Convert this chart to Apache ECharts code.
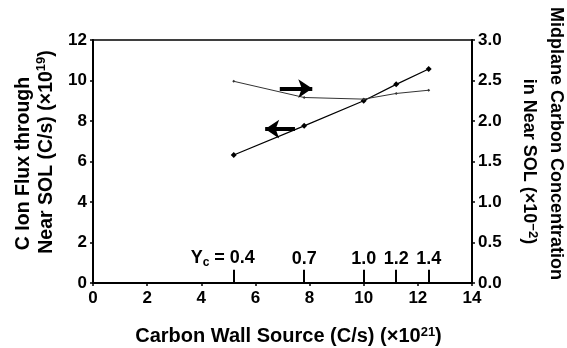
<!DOCTYPE html>
<html>
<head>
<meta charset="utf-8">
<script src="https://cdn.jsdelivr.net/npm/echarts@6/dist/echarts.min.js"></script>
<style>
  html, body { margin: 0; padding: 0; background: #fff; }
  #chart { width: 567px; height: 348px; }
</style>
</head>
<body>
<div id="chart"></div>
<script>
var wallSource = [5.2, 7.8, 10.0, 11.2, 12.4];
var ionFlux = [6.32, 7.76, 9.0, 9.81, 10.57];
var carbonConc = [2.49, 2.29, 2.27, 2.34, 2.38];
var yieldLabels = ['0.4', '0.7', '1.0', '1.2', '1.4'];

var FONT = '"Liberation Sans Narrow", "Liberation Sans", Arial, sans-serif';

var chartDom = document.getElementById('chart');
var myChart = echarts.init(chartDom);

var fluxData = wallSource.map(function (x, i) { return [x, ionFlux[i]]; });
var concData = wallSource.map(function (x, i) { return [x, carbonConc[i]]; });

// Yc ticks standing on the x axis
var yieldTicks = wallSource.map(function (x, i) {
    var lbl = {
        show: true,
        position: 'end',
        distance: 2,
        fontFamily: FONT,
        fontWeight: 'bold',
        fontSize: 18,
        color: '#000',
        formatter: yieldLabels[i]
    };
    if (i === 0) {
        lbl.formatter = '{a|Y}{s|c}{a| = ' + yieldLabels[i] + '}';
        lbl.padding = [0, 22, 0, 0];
        lbl.rich = {
            a: { fontFamily: FONT, fontWeight: 'bold', fontSize: 18, color: '#000', lineHeight: 20 },
            s: { fontFamily: FONT, fontWeight: 'bold', fontSize: 12, color: '#000', lineHeight: 20, padding: [9, 0, 0, 0] }
        };
    }
    return [
        { coord: [x, 0], label: lbl },
        { coord: [x, 0.65] }
    ];
});

var axisText = { fontFamily: FONT, fontWeight: 'bold', fontSize: 17, color: '#000' };
function textStyle(size, lh, pad) {
    return { fontFamily: FONT, fontWeight: 'bold', fontSize: size, color: '#000', lineHeight: lh, padding: pad || 0 };
}
function supStyle(lh, pad) {
    return { fontFamily: FONT, fontWeight: 'bold', fontSize: 13, color: '#000', lineHeight: lh, padding: pad || [0, 0, 9, 0] };
}

var option = {
    animation: false,
    backgroundColor: '#fff',
    grid: {
        left: 93,
        right: 95,
        top: 40,
        bottom: 65,
        outerBoundsMode: 'none',
        show: true,
        borderColor: '#000',
        borderWidth: 1.5
    },
    xAxis: {
        type: 'value',
        min: 0,
        max: 14,
        interval: 2,
        name: '{tl|Carbon Wall Source (C/s) (×10}{sup|21}{t|)}',
        nameLocation: 'middle',
        nameGap: 42,
        nameTextStyle: { rich: {
            t: textStyle(20, 23),
            tl: textStyle(20, 23, [0, 0, 0, 12]),
            sup: supStyle(23)
        } },
        axisLine: { lineStyle: { color: '#000', width: 2 } },
        axisTick: { show: true, length: 3, lineStyle: { color: '#000', width: 1.5 } },
        axisLabel: Object.assign({ margin: 7 }, axisText),
        splitLine: { show: false }
    },
    yAxis: [{
        type: 'value',
        min: 0,
        max: 12,
        interval: 2,
        name: '{t1|C Ion Flux through}\n{t2|Near SOL (C/s) (×10}{sup|19}{t|)}',
        nameLocation: 'middle',
        nameGap: 35,
        nameTextStyle: { align: 'center', rich: {
            t: textStyle(19.5, 23),
            t1: textStyle(19.5, 23, [0, 4, 0, 0]),
            t2: textStyle(19.5, 23, [0, 0, 0, 19]),
            sup: supStyle(23)
        } },
        axisLine: { show: true, lineStyle: { color: '#000', width: 2 } },
        axisTick: { show: true, length: 3, lineStyle: { color: '#000', width: 1.5 } },
        axisLabel: Object.assign({ margin: 6 }, axisText),
        splitLine: { show: false }
    },
    {
        type: 'value',
        position: 'right',
        min: 0,
        max: 3,
        interval: 0.5,
        name: '{t1|Midplane Carbon Concentration}\n{t|in Near SOL (×10}{sup|−2}{t|)}',
        nameLocation: 'middle',
        nameGap: 43,
        nameRotate: -90,
        nameTextStyle: { align: 'center', rich: {
            t: textStyle(18, 27),
            t1: textStyle(18, 27, [0, 36, 0, 0]),
            sup: supStyle(27)
        } },
        axisLine: { show: true, lineStyle: { color: '#000', width: 2 } },
        axisTick: { show: true, length: 3, lineStyle: { color: '#000', width: 1.5 } },
        axisLabel: Object.assign({ margin: 6, formatter: function (v) { return v.toFixed(1); } }, axisText),
        splitLine: { show: false }
    }],
    series: [{
        name: 'Ion flux',
        type: 'line',
        yAxisIndex: 0,
        data: fluxData,
        symbol: 'diamond',
        symbolSize: 6,
        itemStyle: { color: '#000' },
        lineStyle: { color: '#000', width: 1.2 },
        markLine: {
            silent: true,
            symbol: ['none', 'none'],
            lineStyle: { color: '#000', width: 2, type: 'solid' },
            data: yieldTicks.concat([[
                { coord: [7.46, 7.6], lineStyle: { width: 4 } },
                { coord: [6.36, 7.6], symbol: 'arrow', symbolSize: 14, label: { show: false } }
            ]])
        }
    },
    {
        name: 'Carbon concentration',
        type: 'line',
        yAxisIndex: 1,
        data: concData,
        symbol: 'diamond',
        symbolSize: 3,
        itemStyle: { color: '#333' },
        lineStyle: { color: '#333', width: 1 },
        markLine: {
            silent: true,
            symbol: ['none', 'arrow'],
            symbolSize: 14,
            label: { show: false },
            lineStyle: { color: '#000', width: 4, type: 'solid' },
            data: [[
                { coord: [6.9, 2.4] },
                { coord: [8.1, 2.4] }
            ]]
        }
    }]
};

myChart.setOption(option);
</script>
</body>
</html>
